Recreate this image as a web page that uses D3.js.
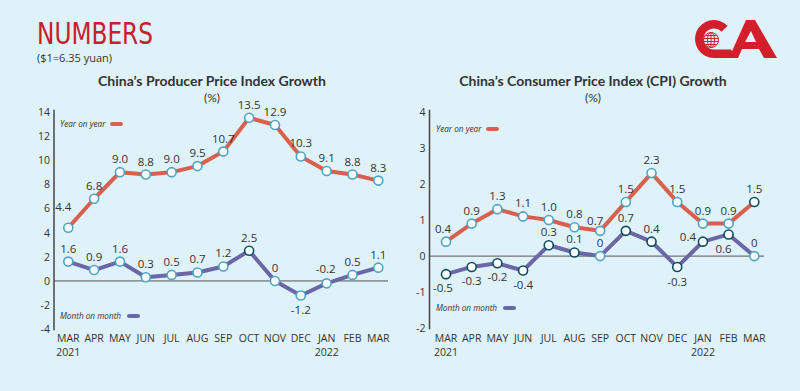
<!DOCTYPE html>
<html>
<head>
<meta charset="utf-8">
<script src="https://cdn.jsdelivr.net/npm/d3@7"></script>
<style>
  body { margin: 0; background: #dff1f9; }
  svg { display: block; }
  .tick-label { font-family: "Open Sans", sans-serif; font-size: 10.5px; fill: #333; }
  .month-label { font-family: "Open Sans", sans-serif; font-size: 10.5px; fill: #333; }
  .value-label { font-family: "Open Sans", sans-serif; font-size: 11.5px; fill: #333; }
  .legend-label { font-family: "Open Sans", sans-serif; font-size: 8.2px; font-style: italic; fill: #333; }
  .graph-label { font-family: Lato, sans-serif; font-size: 14px; font-weight: bold; fill: #333; }
  .unit-label { font-family: Lato, sans-serif; font-size: 12px; fill: #333; }
</style>
</head>
<body>
<div id="chart"></div>
<script>
// months shared by both panels
let months = ['MAR', 'APR', 'MAY', 'JUN', 'JUL', 'AUG', 'SEP', 'OCT', 'NOV', 'DEC', 'JAN', 'FEB', 'MAR'];
let years = {0: '2021', 10: '2022'};

// producer price index
let ppiYoy = [4.4, 6.8, 9.0, 8.8, 9.0, 9.5, 10.7, 13.5, 12.9, 10.3, 9.1, 8.8, 8.3];
let ppiMom = [1.6, 0.9, 1.6, 0.3, 0.5, 0.7, 1.2, 2.5, 0, -1.2, -0.2, 0.5, 1.1];
let ppiTicks = [-4, -2, 0, 2, 4, 6, 8, 10, 12, 14];

// consumer price index
let cpiYoy = [0.4, 0.9, 1.3, 1.1, 1.0, 0.8, 0.7, 1.5, 2.3, 1.5, 0.9, 0.9, 1.5];
let cpiMom = [-0.5, -0.3, -0.2, -0.4, 0.3, 0.1, 0, 0.7, 0.4, -0.3, 0.4, 0.6, 0];
let cpiTicks = [-2, -1, 0, 1, 2, 3, 4];

let W = 800, H = 391;
let red = '#d8604e', purple = '#6b66a6';
let lightRing = '#4ba5c8', darkRing = '#0e4d5e';

let svg = d3.select('#chart').append('svg')
    .attr('width', W).attr('height', H);

svg.append('rect').attr('width', W).attr('height', H).attr('fill', '#dff1f9');

// header
svg.append('text')
    .attr('x', 37).attr('y', 43.5)
    .attr('font-family', '"Liberation Sans Narrow", "DejaVu Sans Condensed", sans-serif')
    .attr('font-size', 30)
    .attr('fill', '#c8202d')
    .attr('textLength', 116).attr('lengthAdjust', 'spacingAndGlyphs')
    .text('NUMBERS');
svg.append('text')
    .attr('x', 37).attr('y', 62)
    .attr('font-family', '"Open Sans", sans-serif')
    .attr('font-size', 11).attr('fill', '#333')
    .text('($1=6.35 yuan)');

// logo: C ring with globe, then A
let logoRed = '#d21f2b';
let logo = svg.append('g').attr('fill', logoRed);
let ringArc = d3.arc().innerRadius(10.5).outerRadius(19)
    .startAngle(Math.PI).endAngle(Math.PI * 2 + 0.8);
logo.append('path').attr('transform', 'translate(714,39)').attr('d', ringArc());
logo.append('path').attr('d', 'M714,49.5 L731,49.5 L736,58 L714,58 Z');
logo.append('path')
    .attr('d', 'M729,58 L746,20 L755,20 L777,58 L764,58 L759,49 L742,49 L738,58 Z M745,42 L756,42 L751,31 Z')
    .attr('fill-rule', 'evenodd');
let globe = svg.append('g').attr('transform', 'translate(711,40)')
    .attr('fill', 'none').attr('stroke', logoRed).attr('stroke-width', 1);
globe.append('circle').attr('r', 7.5);
globe.append('ellipse').attr('rx', 3.5).attr('ry', 7.5);
globe.append('line').attr('x1', 0).attr('x2', 0).attr('y1', -7.5).attr('y2', 7.5);
[-4.5, -1.5, 1.5, 4.5].forEach(v => {
  let hw = Math.sqrt(56 - v * v);
  globe.append('line').attr('x1', -hw).attr('x2', hw).attr('y1', v).attr('y2', v);
});

function drawPanel(cfg) {
  let g = svg.append('g');
  let x = d3.scalePoint().domain(d3.range(months.length)).range(cfg.xRange);
  let y = d3.scaleLinear().domain(cfg.domain).range(cfg.yRange);

  // titles
  g.append('text').attr('class', 'graph-label')
      .attr('x', cfg.cx).attr('y', 86).attr('text-anchor', 'middle').text(cfg.title);
  g.append('text').attr('class', 'unit-label')
      .attr('x', cfg.cx).attr('y', 102).attr('text-anchor', 'middle').text('(%)');

  // y axis: line + labels, no tick marks
  g.append('line')
      .attr('x1', cfg.axisX).attr('x2', cfg.axisX)
      .attr('y1', y(cfg.domain[1]) - 2).attr('y2', y(cfg.domain[0]) + 1)
      .attr('stroke', '#444').attr('stroke-width', 1.5);
  g.selectAll('.tick-label').data(cfg.ticks).enter().append('text')
      .attr('class', 'tick-label')
      .attr('x', cfg.axisX - 4).attr('y', d => y(d) + 4)
      .attr('text-anchor', 'end')
      .text(d => d);

  // zero line
  g.append('line')
      .attr('x1', cfg.axisX).attr('x2', cfg.zeroEnd)
      .attr('y1', y(0)).attr('y2', y(0))
      .attr('stroke', '#555').attr('stroke-width', 1);

  // month labels
  g.selectAll('.month-label').data(months).enter().append('text')
      .attr('class', 'month-label')
      .attr('x', (d, i) => x(i)).attr('y', 342)
      .attr('text-anchor', 'middle').text(d => d);
  Object.keys(years).forEach(i => {
    g.append('text').attr('class', 'month-label')
        .attr('x', x(+i)).attr('y', 356).attr('text-anchor', 'middle').text(years[i]);
  });

  // series lines first, then markers and labels on top
  cfg.series.forEach(s => {
    let line = d3.line().x((d, i) => x(i)).y(d => y(d));
    g.append('path').datum(s.values)
        .attr('fill', 'none').attr('stroke', s.color)
        .attr('stroke-width', 4).attr('stroke-linejoin', 'round')
        .attr('d', line);
  });
  cfg.series.forEach(s => {
    g.selectAll(null).data(s.values).enter().append('circle')
        .attr('cx', (d, i) => x(i)).attr('cy', d => y(d)).attr('r', 4.5)
        .attr('fill', 'white')
        .attr('stroke', (d, i) => s.dark.includes(i) ? darkRing : lightRing)
        .attr('stroke-width', 1.6);
    g.selectAll(null).data(s.values).enter().append('text')
        .attr('class', 'value-label')
        .attr('text-anchor', 'middle')
        .attr('x', (d, i) => x(i) + (s.offsets[i] ? s.offsets[i][0] : 0))
        .attr('y', (d, i) => y(d) + (s.offsets[i] ? s.offsets[i][1] : -9))
        .text(d => d === 0 ? '0' : (s.fixed ? d.toFixed(1) : d));

    // legend
    g.append('text').attr('class', 'legend-label')
        .attr('x', s.legend[0]).attr('y', s.legend[1] + 3).text(s.name);
    g.append('line')
        .attr('x1', s.legend[2]).attr('x2', s.legend[2] + 9)
        .attr('y1', s.legend[1]).attr('y2', s.legend[1])
        .attr('stroke', s.color).attr('stroke-width', 4).attr('stroke-linecap', 'round');
  });
}

drawPanel({
  title: 'China\u2019s Producer Price Index Growth',
  cx: 212, axisX: 54, zeroEnd: 388,
  xRange: [68.3, 378.3], domain: [-4, 14], yRange: [329.3, 111.7],
  ticks: ppiTicks,
  series: [
    {name: 'Year on year', values: ppiYoy, color: red, fixed: true, dark: [],
     offsets: {0: [-5, -17]}, legend: [60, 124, 112]},
    {name: 'Month on month', values: ppiMom, color: purple, fixed: false, dark: [7],
     offsets: {9: [0, 19], 10: [-1, -10]}, legend: [60, 316, 129]}
  ]
});

drawPanel({
  title: 'China\u2019s Consumer Price Index (CPI) Growth',
  cx: 593, axisX: 429.5, zeroEnd: 764,
  xRange: [446, 754.3], domain: [-2, 4], yRange: [328.3, 111.7],
  ticks: cpiTicks,
  series: [
    {name: 'Year on year', values: cpiYoy, color: red, fixed: true, dark: [12],
     offsets: {0: [-3, -9], 6: [-5, -6]}, legend: [436, 129, 488]},
    {name: 'Month on month', values: cpiMom, color: purple, fixed: false,
     dark: [0, 1, 2, 3, 4, 5, 7, 8, 9, 10, 11],
     offsets: {0: [-3, 18], 1: [0, 18], 2: [0, 18], 3: [0, 18], 9: [0, 19],
               10: [-15, -1], 11: [-5, 19]}, legend: [436, 308, 505]}
  ]
});
</script>
</body>
</html>
